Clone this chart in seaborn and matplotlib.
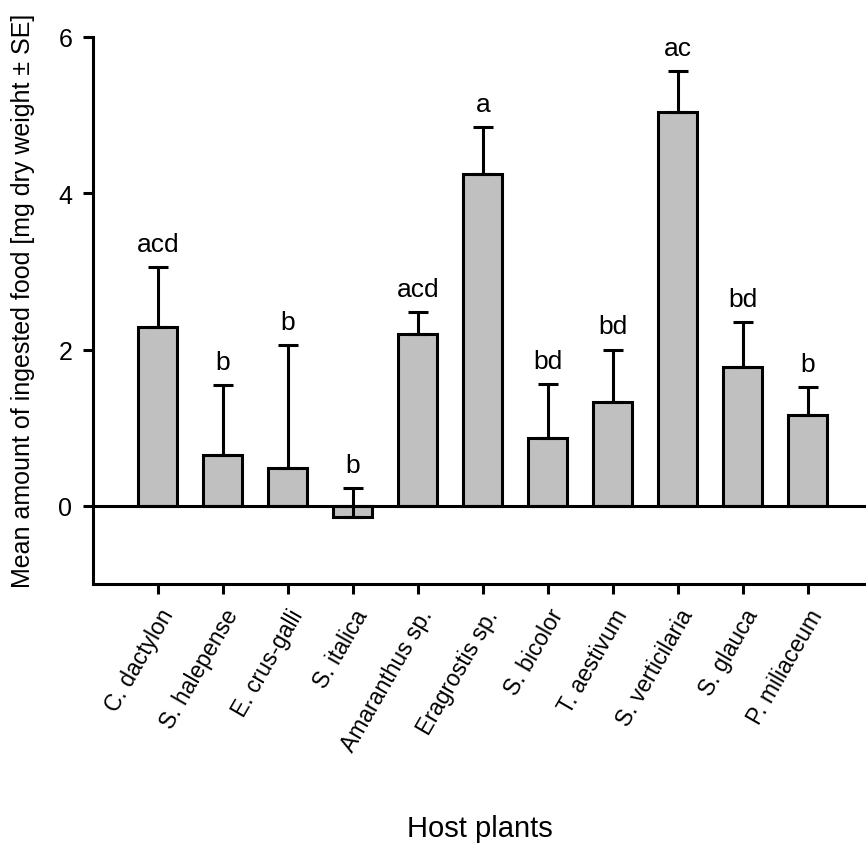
import matplotlib
matplotlib.use('Agg')
import matplotlib.pyplot as plt
import seaborn as sns

plants = ['C. dactylon', 'S. halepense', 'E. crus-galli', 'S. italica',
          'Amaranthus sp.', 'Eragrostis sp.', 'S. bicolor', 'T. aestivum',
          'S. verticilaria', 'S. glauca', 'P. miliaceum']
means = [2.29, 0.65, 0.49, -0.14, 2.20, 4.25, 0.87, 1.33, 5.04, 1.78, 1.16]
se = [0.77, 0.89, 1.57, 0.37, 0.28, 0.60, 0.69, 0.67, 0.52, 0.57, 0.36]
letters = ['acd', 'b', 'b', 'b', 'acd', 'a', 'bd', 'bd', 'ac', 'bd', 'b']

sns.set_style('ticks')
plt.rcParams['font.family'] = ['Liberation Sans', 'DejaVu Sans']
for key in ['text.color', 'axes.labelcolor', 'xtick.color', 'ytick.color', 'axes.edgecolor']:
    plt.rcParams[key] = 'black'

fig = plt.figure(figsize=(8.66, 8.53), dpi=100)
ax = fig.add_axes([0.1074, 0.3142, 0.8926, 0.6413])

sns.barplot(x=plants, y=means, color='#c0c0c0', edgecolor='black',
            linewidth=2.2, width=0.6, saturation=1, ax=ax, zorder=2)
xpos = list(range(len(plants)))
ax.errorbar(xpos, means, yerr=[[0] * len(se), se], fmt='none', ecolor='black',
            elinewidth=2.2, capsize=7, capthick=2.2, zorder=3)
ax.axhline(0, color='black', lw=2.2, zorder=4)

for x, m, s, t in zip(xpos, means, se, letters):
    ax.annotate(t, (x, m + s), xytext=(0, 8), textcoords='offset points',
                ha='center', va='bottom', fontsize=19)

ax.set_xlim(-1, 10.9)
ax.set_ylim(-1, 6)
ax.set_yticks([0, 2, 4, 6])
ax.spines['left'].set_bounds(-1, 6)
for side in ['top', 'right']:
    ax.spines[side].set_visible(False)
for side in ['left', 'bottom']:
    ax.spines[side].set_linewidth(2.2)
ax.tick_params(width=2.2, length=7, pad=8)
ax.tick_params(axis='x', labelsize=16.5)
ax.tick_params(axis='y', labelsize=18)
plt.setp(ax.get_xticklabels(), rotation=60, ha='right', rotation_mode='anchor')

ax.set_ylabel('Mean amount of ingested food [mg dry weight \u00b1 SE]', fontsize=18)
ax.yaxis.set_label_coords(-0.075, 0.52)
ax.set_xlabel('Host plants', fontsize=21)
ax.xaxis.set_label_coords(0.5, -0.42)

fig.savefig('out.png', dpi=100)
